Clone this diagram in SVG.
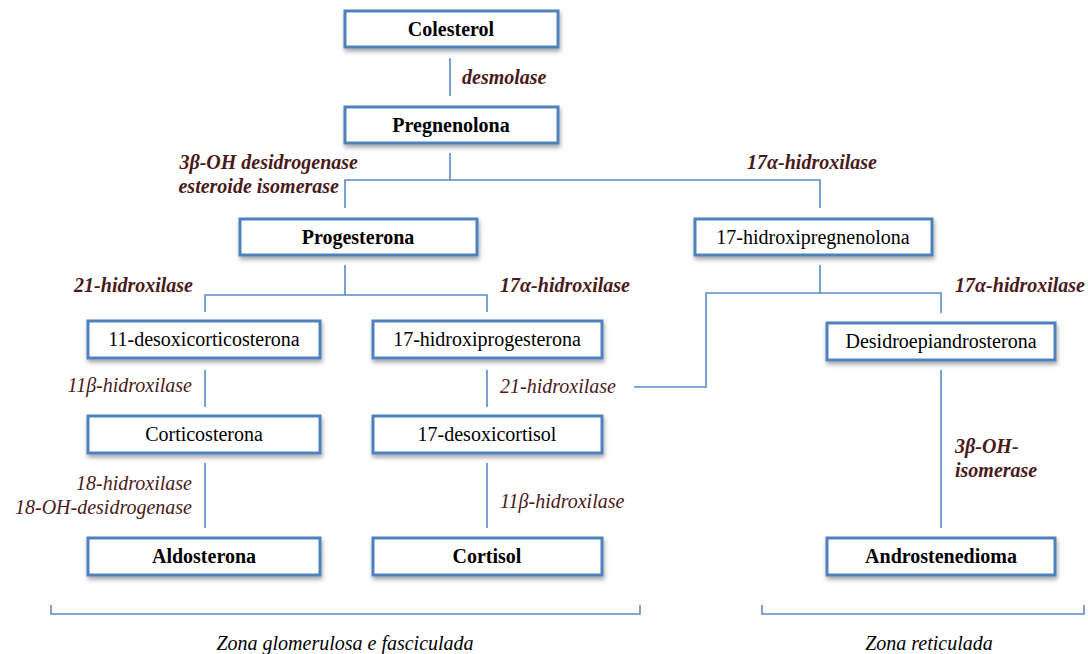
<svg xmlns="http://www.w3.org/2000/svg" width="1088" height="654" viewBox="0 0 1088 654">
<defs>
<filter id="sh" x="-10%" y="-20%" width="120%" height="160%">
<feDropShadow dx="1" dy="3" stdDeviation="2" flood-color="#000" flood-opacity="0.35"/>
</filter>
<style>
.box{fill:#fff;stroke:#4f81bd;stroke-width:3;filter:url(#sh)}
text{font-family:'Liberation Serif','Times New Roman','DejaVu Serif',serif}
.t{font-size:20px;fill:#000;text-anchor:middle}
.b{font-weight:bold}
.ln{fill:none;stroke:#5b8ac5;stroke-width:1.6}
.lb{font-size:20px;font-style:italic;fill:#4a1a1a}
.lbb{font-weight:bold}
.z{font-size:20px;font-style:italic;fill:#000;text-anchor:middle}
</style>
</defs>
<rect width="1088" height="654" fill="#fff"/>
<g id="connectors">
<line class="ln" x1="450" y1="58" x2="450" y2="96"/>
<polyline class="ln" points="450,153 450,180"/>
<polyline class="ln" points="345,208 345,180 820,180 820,208"/>
<polyline class="ln" points="345,265 345,295"/>
<polyline class="ln" points="205,312 205,295 487,295 487,312"/>
<polyline class="ln" points="820,265 820,293"/>
<polyline class="ln" points="634,387 706,387 706,293 941,293 941,313"/>
<line class="ln" x1="205" y1="370" x2="205" y2="407"/>
<line class="ln" x1="487" y1="370" x2="487" y2="407"/>
<line class="ln" x1="941" y1="370" x2="941" y2="528"/>
<line class="ln" x1="205" y1="463" x2="205" y2="528"/>
<line class="ln" x1="487" y1="463" x2="487" y2="528"/>
<polyline class="ln" points="51,605 51,614 640,614 640,605"/>
<polyline class="ln" points="762,605 762,614 1084,614 1084,605"/>
<text class="lb lbb" x="462" y="84">desmolase</text>
<text class="lb lbb" x="358" y="169" text-anchor="end">3β-OH desidrogenase</text>
<text class="lb lbb" x="339" y="193" text-anchor="end">esteroide isomerase</text>
<text class="lb lbb" x="747" y="169">17α-hidroxilase</text>
<text class="lb lbb" x="193" y="292" text-anchor="end">21-hidroxilase</text>
<text class="lb lbb" x="630" y="292" text-anchor="end">17α-hidroxilase</text>
<text class="lb lbb" x="1085" y="292" text-anchor="end">17α-hidroxilase</text>
<text class="lb" x="192" y="392" text-anchor="end">11β-hidroxilase</text>
<text class="lb" x="500" y="393">21-hidroxilase</text>
<text class="lb lbb" x="955" y="453">3β-OH-</text>
<text class="lb lbb" x="955" y="477">isomerase</text>
<text class="lb" x="192" y="490" text-anchor="end">18-hidroxilase</text>
<text class="lb" x="192" y="514" text-anchor="end">18-OH-desidrogenase</text>
<text class="lb" x="500" y="508">11β-hidroxilase</text>
<text class="z" x="345" y="650">Zona glomerulosa e fasciculada</text>
<text class="z" x="929" y="650">Zona reticulada</text>
</g>
<g id="n-colesterol"><rect class="box" x="345" y="11" width="213" height="36"/><text class="t b" x="451" y="36">Colesterol</text></g>
<g id="n-pregnenolona"><rect class="box" x="345" y="107" width="213" height="36"/><text class="t b" x="451" y="132">Pregnenolona</text></g>
<g id="n-progesterona"><rect class="box" x="240" y="219" width="237" height="36"/><text class="t b" x="358" y="244">Progesterona</text></g>
<g id="n-17hpreg"><rect class="box" x="695" y="219" width="237" height="36"/><text class="t" x="813" y="244">17-hidroxipregnenolona</text></g>
<g id="n-11doc"><rect class="box" x="88" y="321" width="232" height="37"/><text class="t" x="204" y="346">11-desoxicorticosterona</text></g>
<g id="n-17hprog"><rect class="box" x="373" y="321" width="229" height="37"/><text class="t" x="487" y="346">17-hidroxiprogesterona</text></g>
<g id="n-dhea"><rect class="box" x="827" y="323" width="228" height="37"/><text class="t" x="941" y="348">Desidroepiandrosterona</text></g>
<g id="n-corticosterona"><rect class="box" x="88" y="416" width="232" height="37"/><text class="t" x="204" y="441">Corticosterona</text></g>
<g id="n-17desox"><rect class="box" x="373" y="416" width="229" height="37"/><text class="t" x="487" y="441">17-desoxicortisol</text></g>
<g id="n-aldosterona"><rect class="box" x="88" y="538" width="232" height="37"/><text class="t b" x="204" y="563">Aldosterona</text></g>
<g id="n-cortisol"><rect class="box" x="373" y="538" width="229" height="37"/><text class="t b" x="487" y="563">Cortisol</text></g>
<g id="n-androstenedioma"><rect class="box" x="827" y="538" width="228" height="37"/><text class="t b" x="941" y="563">Androstenedioma</text></g>
</svg>
